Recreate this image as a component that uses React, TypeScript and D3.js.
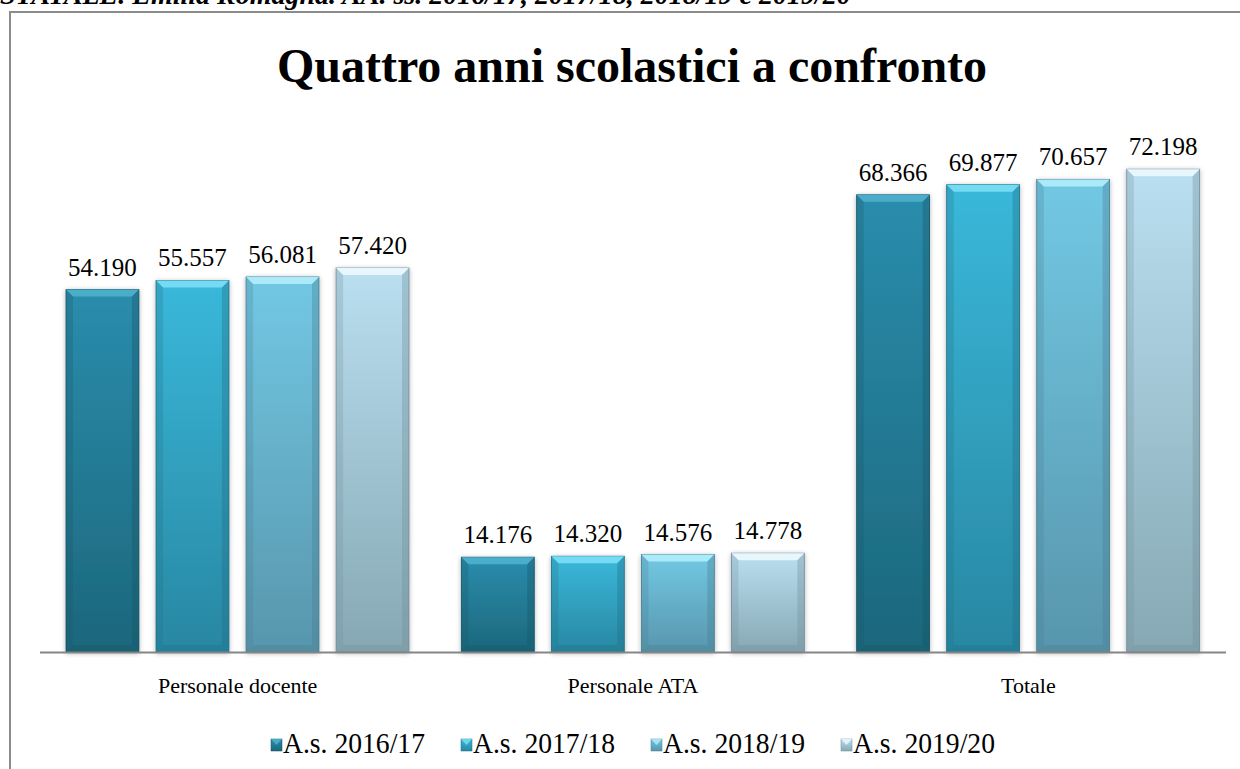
import React from "react";
import * as d3 from "d3";

const categories = ["Personale docente", "Personale ATA", "Totale"];
const seriesNames = ["A.s. 2016/17", "A.s. 2017/18", "A.s. 2018/19", "A.s. 2019/20"];
const s2016 = [54190, 14176, 68366];
const s2017 = [55557, 14320, 69877];
const s2018 = [56081, 14576, 70657];
const s2019 = [57420, 14778, 72198];
const seriesValues = [s2016, s2017, s2018, s2019];
const titleText = "Quattro anni scolastici a confronto";
const headerText = "STATALE. Emilia Romagna. AA. ss. 2016/17, 2017/18, 2018/19 e 2019/20";

const palettes = [
  { top: "#2a8dac", bottom: "#1c677c", light: "#4cb0cc", dark: "#165264" },
  { top: "#3ab8da", bottom: "#2887a2", light: "#78dcf4", dark: "#1f6e84" },
  { top: "#72c8e4", bottom: "#5896ac", light: "#aeecfa", dark: "#487c8e" },
  { top: "#badff0", bottom: "#86a8b4", light: "#eaf8fd", dark: "#708c98" },
];

const fmt = (v: number) => d3.format(",")(v).replace(/,/g, ".");

export default function App() {
  const W = 1240, H = 769;
  const x0 = d3.scaleBand().domain(categories).range([40, 1226]).paddingInner(0).paddingOuter(0);
  const x1 = d3.scaleBand().domain(seriesNames).range([26, 395 - 26]).paddingInner(0.19).paddingOuter(0);
  const y = d3.scaleLinear().domain([0, 80000]).range([652, 117]);
  const font = "'Liberation Serif', 'Times New Roman', serif";
  const bev = 7;

  return (
    <svg width={W} height={H} style={{ position: "absolute", left: 0, top: 0, background: "#fff" }}>
      <defs>
        {palettes.map((p, i) => (
          <linearGradient key={i} id={`g${i}`} x1="0" y1="0" x2="0" y2="1">
            <stop offset="0%" stopColor={p.top} />
            <stop offset="100%" stopColor={p.bottom} />
          </linearGradient>
        ))}
        <filter id="sh" x="-20%" y="-5%" width="140%" height="115%">
          <feGaussianBlur in="SourceAlpha" stdDeviation="2.5" />
          <feOffset dx="0" dy="1" />
          <feComponentTransfer><feFuncA type="linear" slope="0.3" /></feComponentTransfer>
          <feMerge><feMergeNode /><feMergeNode in="SourceGraphic" /></feMerge>
        </filter>
      </defs>
      <text x={0} y={4} fontFamily={font} fontSize={28} fontWeight="bold" fontStyle="italic" fill="#000">{headerText}</text>
      <rect x={10} y={12} width={1300} height={900} fill="none" stroke="#8c8c8c" strokeWidth={2} />
      <text x={632} y={82} textAnchor="middle" fontFamily={font} fontSize={48} fontWeight="bold" fill="#000">{titleText}</text>
      {categories.map((c, ci) => (
        <g key={c} transform={`translate(${x0(c)},0)`}>
          {seriesNames.map((s, si) => {
            const v = seriesValues[si][ci];
            const bx = x1(s)!, bw = x1.bandwidth();
            const top = y(v), bot = y(0);
            const p = palettes[si];
            return (
              <g key={s}>
                <g filter="url(#sh)">
                  <rect x={bx} y={top} width={bw} height={bot - top} fill={`url(#g${si})`} stroke={p.dark} strokeWidth={0.8} />
                </g>
                <polygon points={`${bx},${top} ${bx + bw},${top} ${bx + bw - bev},${top + bev} ${bx + bev},${top + bev}`} fill={p.light} opacity={0.95} />
                <polygon points={`${bx},${top} ${bx + bev},${top + bev} ${bx + bev},${bot - bev} ${bx},${bot}`} fill={p.dark} opacity={0.25} />
                <polygon points={`${bx + bw},${top} ${bx + bw - bev},${top + bev} ${bx + bw - bev},${bot - bev} ${bx + bw},${bot}`} fill={p.dark} opacity={0.35} />
                <polygon points={`${bx},${bot} ${bx + bev},${bot - bev} ${bx + bw - bev},${bot - bev} ${bx + bw},${bot}`} fill={p.dark} opacity={0.3} />
                <text x={bx + bw / 2} y={top - 14} textAnchor="middle" fontFamily={font} fontSize={25} fill="#000">{fmt(v)}</text>
              </g>
            );
          })}
          <text x={x0.bandwidth() / 2} y={693} textAnchor="middle" fontFamily={font} fontSize={22} fill="#000">{c}</text>
        </g>
      ))}
      <line x1={40} x2={1226} y1={652.5} y2={652.5} stroke="#868686" strokeWidth={2} />
      {seriesNames.map((s, si) => {
        const lx = [271, 461, 651, 841][si];
        const p = palettes[si];
        return (
          <g key={s}>
            <rect x={lx} y={739} width={11} height={12} fill={`url(#g${si})`} stroke={p.dark} strokeWidth={0.5} />
            <polygon points={`${lx},739 ${lx + 11},739 ${lx + 5.5},745`} fill={p.light} opacity={0.85} />
            <text x={lx + 12} y={753} fontFamily={font} fontSize={30} textLength={142} lengthAdjust="spacingAndGlyphs" fill="#000">{s}</text>
          </g>
        );
      })}
    </svg>
  );
}
